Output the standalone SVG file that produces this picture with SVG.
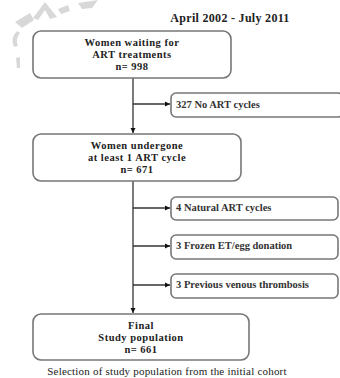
<svg xmlns="http://www.w3.org/2000/svg" width="340" height="378" viewBox="0 0 340 378">
<defs>
<marker id="ah" markerWidth="6" markerHeight="6" refX="5" refY="3" orient="auto" markerUnits="userSpaceOnUse">
<path d="M0,0.5 L5,3 L0,5.5 z" fill="#111"/>
</marker>
<style>
.box{fill:#fff;stroke:#777;stroke-width:1.6}
.t{font-family:"Liberation Serif","Times New Roman",serif;font-weight:bold;fill:#222;text-anchor:middle;font-size:10.5px;letter-spacing:0.5px}
.s{font-family:"Liberation Serif","Times New Roman",serif;font-weight:bold;fill:#333;font-size:10.5px}
.c{stroke:#333;stroke-width:1.3;fill:none}
.wm{fill:#d8d8d8}
</style>
</defs>
<rect width="340" height="378" fill="#fff"/>
<g id="watermark">
<polygon class="wm" points="15,22 30,13 34,20 22,28"/>
<polygon class="wm" points="33,18 45,2 57,17 50,19 45,10 38,20"/>
<polygon class="wm" points="58,9 68,5 70,11 61,14"/>
<polygon class="wm" points="78,3 98,0 92,8 82,9"/>
<path class="wm" d="M17,31 Q10,38 14,47 L18,46 Q15,39 20,33 z"/>
<polygon class="wm" points="16,58 20,57 20,68 17,68"/>
</g>
<text class="t" x="230" y="22" style="font-size:12px;letter-spacing:0.3px">April  2002 - July 2011</text>
<g id="connectors">
<line class="c" x1="133" y1="78" x2="133" y2="133" marker-end="url(#ah)"/>
<line class="c" x1="133" y1="104" x2="170" y2="104" marker-end="url(#ah)"/>
<line class="c" x1="133" y1="181" x2="133" y2="313" marker-end="url(#ah)"/>
<line class="c" x1="133" y1="208" x2="170" y2="208" marker-end="url(#ah)"/>
<line class="c" x1="133" y1="246" x2="170" y2="246" marker-end="url(#ah)"/>
<line class="c" x1="133" y1="285" x2="170" y2="285" marker-end="url(#ah)"/>
</g>
<g id="n1">
<rect class="box" x="33" y="31" width="198" height="47" rx="8"/>
<text class="t" x="132" y="46">Women waiting for</text>
<text class="t" x="132" y="58">ART treatments</text>
<text class="t" x="132" y="70">n= 998</text>
</g>
<g id="e1">
<rect class="box" x="171" y="93" width="172" height="24" rx="5"/>
<text class="s" x="176" y="108">327  No ART cycles</text>
</g>
<g id="n2">
<rect class="box" x="33" y="134" width="208" height="47" rx="8"/>
<text class="t" x="137" y="149">Women undergone</text>
<text class="t" x="137" y="161">at least 1 ART cycle</text>
<text class="t" x="137" y="173">n= 671</text>
</g>
<g id="e2">
<rect class="box" x="171" y="197" width="167" height="23" rx="5"/>
<text class="s" x="176" y="211">4  Natural ART cycles</text>
</g>
<g id="e3">
<rect class="box" x="171" y="235" width="167" height="24" rx="5"/>
<text class="s" x="176" y="249">3  Frozen ET/egg donation</text>
</g>
<g id="e4">
<rect class="box" x="171" y="274" width="167" height="24" rx="5"/>
<text class="s" x="176" y="288">3  Previous venous thrombosis</text>
</g>
<g id="n3">
<rect class="box" x="33" y="314" width="216" height="46" rx="8"/>
<text class="t" x="141" y="329">Final</text>
<text class="t" x="141" y="341">Study population</text>
<text class="t" x="141" y="353">n= 661</text>
</g>
<text x="167" y="375" style="font-family:'Liberation Serif','Times New Roman',serif;font-size:11px;letter-spacing:0.2px;fill:#222;text-anchor:middle">Selection of study population  from the initial  cohort</text>
</svg>
